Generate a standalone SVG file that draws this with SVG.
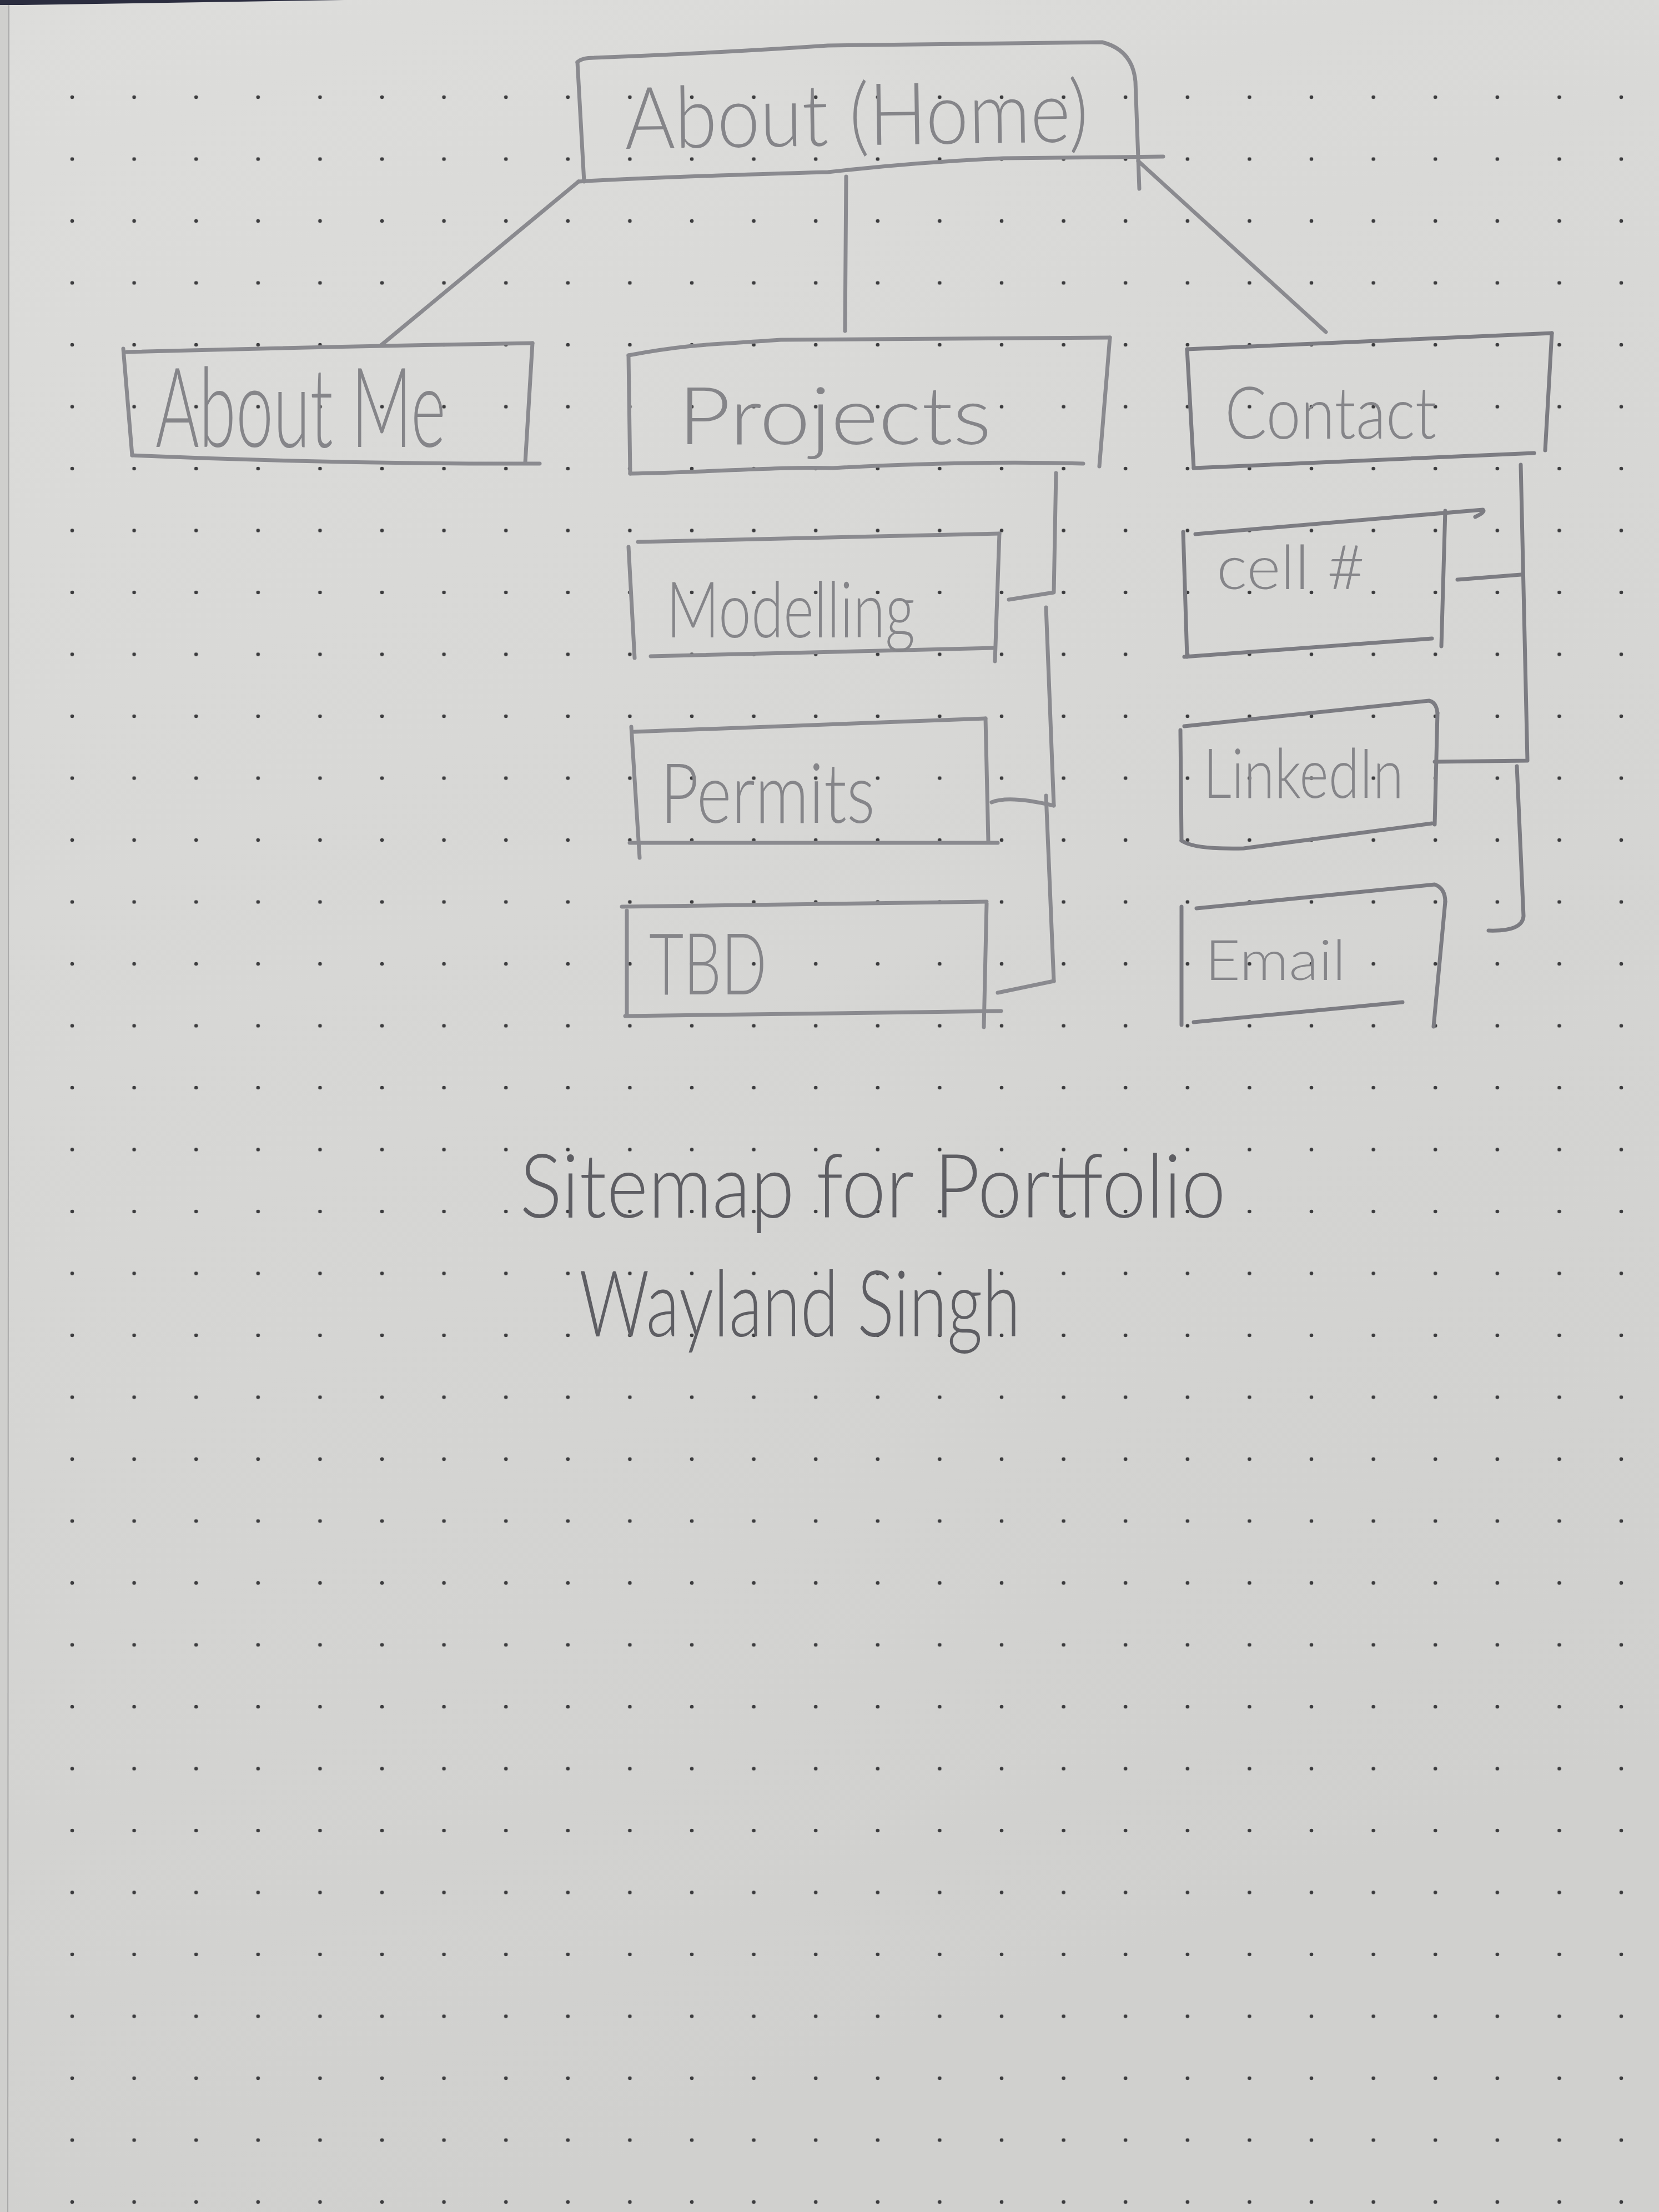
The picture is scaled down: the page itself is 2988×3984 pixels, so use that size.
<svg xmlns="http://www.w3.org/2000/svg" width="2988" height="3984" viewBox="0 0 2988 3984">
<defs>
<linearGradient id="paper" x1="0" y1="0" x2="0.3" y2="1">
<stop offset="0" stop-color="#dddddb"/>
<stop offset="1" stop-color="#d0d0ce"/>
</linearGradient>
<pattern id="dots" patternUnits="userSpaceOnUse" x="74.2" y="119.25" width="111.6" height="111.5">
<circle cx="55.8" cy="55.75" r="3.3" fill="#3c3c3e"/>
</pattern>
</defs>
<style>
.pen{fill:none;stroke:#8a8a8f;stroke-width:7;stroke-linecap:round;stroke-linejoin:round}
.dk{stroke:#7c7c82}
.lbl{font-family:Lato,"Liberation Sans",sans-serif;font-weight:300;fill:#858589}
.ttl{font-family:Lato,"Liberation Sans",sans-serif;font-weight:300;fill:#5e5e63}
</style>
<rect x="0" y="0" width="2988" height="3984" fill="url(#paper)"/>
<rect x="0" y="0" width="16" height="3984" fill="#cfcfcd"/>
<line x1="16" y1="0" x2="14" y2="3984" stroke="#a9a9a9" stroke-width="2"/>
<polygon points="0,0 620,0 40,9 0,9" fill="#2b2d3f"/>
<rect x="90" y="120" width="2898" height="3864" fill="url(#dots)"/>

<g id="connectors" class="pen">
<path d="M1042,327 L686,622"/>
<path d="M1524,318 L1522,596"/>
<path d="M2050,290 L2388,598"/>
<path d="M1902,852 L1898,1067 L1817,1080"/>
<path d="M1884,1094 L1898,1451"/>
<path d="M1786,1445 Q1817,1432 1898,1451"/>
<path d="M1884,1433 L1898,1767"/>
<path d="M1797,1788 L1898,1767"/>
<path class="dk" d="M2739,837 L2751,1370 L2584,1372"/>
<path class="dk" d="M2625,1044 L2739,1035"/>
<path class="dk" d="M2732,1380 L2744,1650 Q2742,1678 2681,1676"/>
</g>

<g id="node-home" class="pen">
<path d="M1040,112 L1052,327"/>
<path d="M1040,112 Q1048,104 1070,104 Q1300,95 1491,82 L1985,76 Q2040,90 2045,147 L2052,340"/>
<path d="M1042,327 Q1200,318 1491,310 Q1650,292 1807,285 L2095,282"/>
<text class="lbl" style="stroke:none" x="1126" y="268" font-size="155" textLength="835" lengthAdjust="spacingAndGlyphs" transform="rotate(-0.9 1126 268)">About (Home)</text>
</g>

<g id="node-aboutme" class="pen">
<path d="M222,628 L238,820"/>
<path d="M228,634 Q600,624 959,618"/>
<path d="M959,618 L946,833"/>
<path d="M238,820 Q600,836 972,835"/>
<text class="lbl" style="stroke:none" x="280" y="805" font-size="200" textLength="523" lengthAdjust="spacingAndGlyphs">About Me</text>
</g>

<g id="node-projects" class="pen">
<path d="M1132,640 L1135,853"/>
<path d="M1132,640 C1250,618 1300,620 1406,612 L1999,608"/>
<path d="M1999,608 L1980,840"/>
<path d="M1135,853 C1300,850 1400,840 1500,843 C1700,832 1850,832 1951,835"/>
<text class="lbl" style="stroke:none" x="1221" y="800" font-size="145" textLength="565" lengthAdjust="spacingAndGlyphs">Projects</text>
</g>

<g id="node-contact" class="pen dk">
<path d="M2138,629 L2150,843"/>
<path d="M2138,629 L2795,600"/>
<path d="M2795,600 L2783,811"/>
<path d="M2150,843 L2763,816"/>
<text class="lbl" style="stroke:none" x="2206" y="790" font-size="130" textLength="381" lengthAdjust="spacingAndGlyphs">Contact</text>
</g>

<g id="node-modelling" class="pen">
<path d="M1132,985 L1143,1185"/>
<path d="M1149,976 L1800,961"/>
<path d="M1800,961 L1792,1191"/>
<path d="M1172,1182 L1789,1167"/>
<text class="lbl" style="stroke:none" x="1200" y="1148" font-size="140" textLength="448" lengthAdjust="spacingAndGlyphs">Modelling</text>
</g>

<g id="node-permits" class="pen">
<path d="M1137,1309 L1152,1545"/>
<path d="M1143,1318 L1775,1294"/>
<path d="M1775,1294 L1780,1515"/>
<path d="M1134,1518 L1797,1518"/>
<text class="lbl" style="stroke:none" x="1189" y="1482" font-size="150" textLength="387" lengthAdjust="spacingAndGlyphs">Permits</text>
</g>

<g id="node-tbd" class="pen">
<path d="M1129,1640 L1129,1827"/>
<path d="M1120,1633 L1777,1624"/>
<path d="M1777,1627 L1772,1850"/>
<path d="M1126,1830 L1803,1821"/>
<text class="lbl" style="stroke:none" x="1169" y="1791" font-size="155" textLength="212" lengthAdjust="spacingAndGlyphs">TBD</text>
</g>

<g id="node-cell" class="pen dk">
<path d="M2131,958 L2138,1183"/>
<path d="M2153,962 L2671,918 Q2676,922 2657,931"/>
<path d="M2603,920 L2596,1164"/>
<path d="M2133,1183 L2579,1150"/>
<text class="lbl" style="stroke:none" x="2191" y="1061" font-size="110" textLength="267" lengthAdjust="spacingAndGlyphs">cell #</text>
</g>

<g id="node-linkedin" class="pen dk">
<path d="M2126,1315 L2128,1514"/>
<path d="M2133,1308 L2574,1262 Q2587,1265 2589,1284"/>
<path d="M2589,1284 L2584,1485"/>
<path d="M2128,1514 Q2150,1530 2240,1528 L2579,1483"/>
<text class="lbl" style="stroke:none" x="2167" y="1437" font-size="125" textLength="361" lengthAdjust="spacingAndGlyphs">LinkedIn</text>
</g>

<g id="node-email" class="pen dk">
<path d="M2128,1633 L2128,1846"/>
<path d="M2155,1636 L2584,1593 Q2603,1600 2603,1624"/>
<path d="M2603,1624 L2582,1849"/>
<path d="M2150,1841 L2526,1805"/>
<text class="lbl" style="stroke:none" x="2170" y="1765" font-size="100" textLength="254" lengthAdjust="spacingAndGlyphs">Email</text>
</g>

<g id="title">
<text class="ttl" x="936" y="2193" font-size="160" textLength="1272" lengthAdjust="spacingAndGlyphs">Sitemap for Portfolio</text>
<text class="ttl" x="1043" y="2407" font-size="165" textLength="795" lengthAdjust="spacingAndGlyphs">Wayland Singh</text>
</g>
</svg>
